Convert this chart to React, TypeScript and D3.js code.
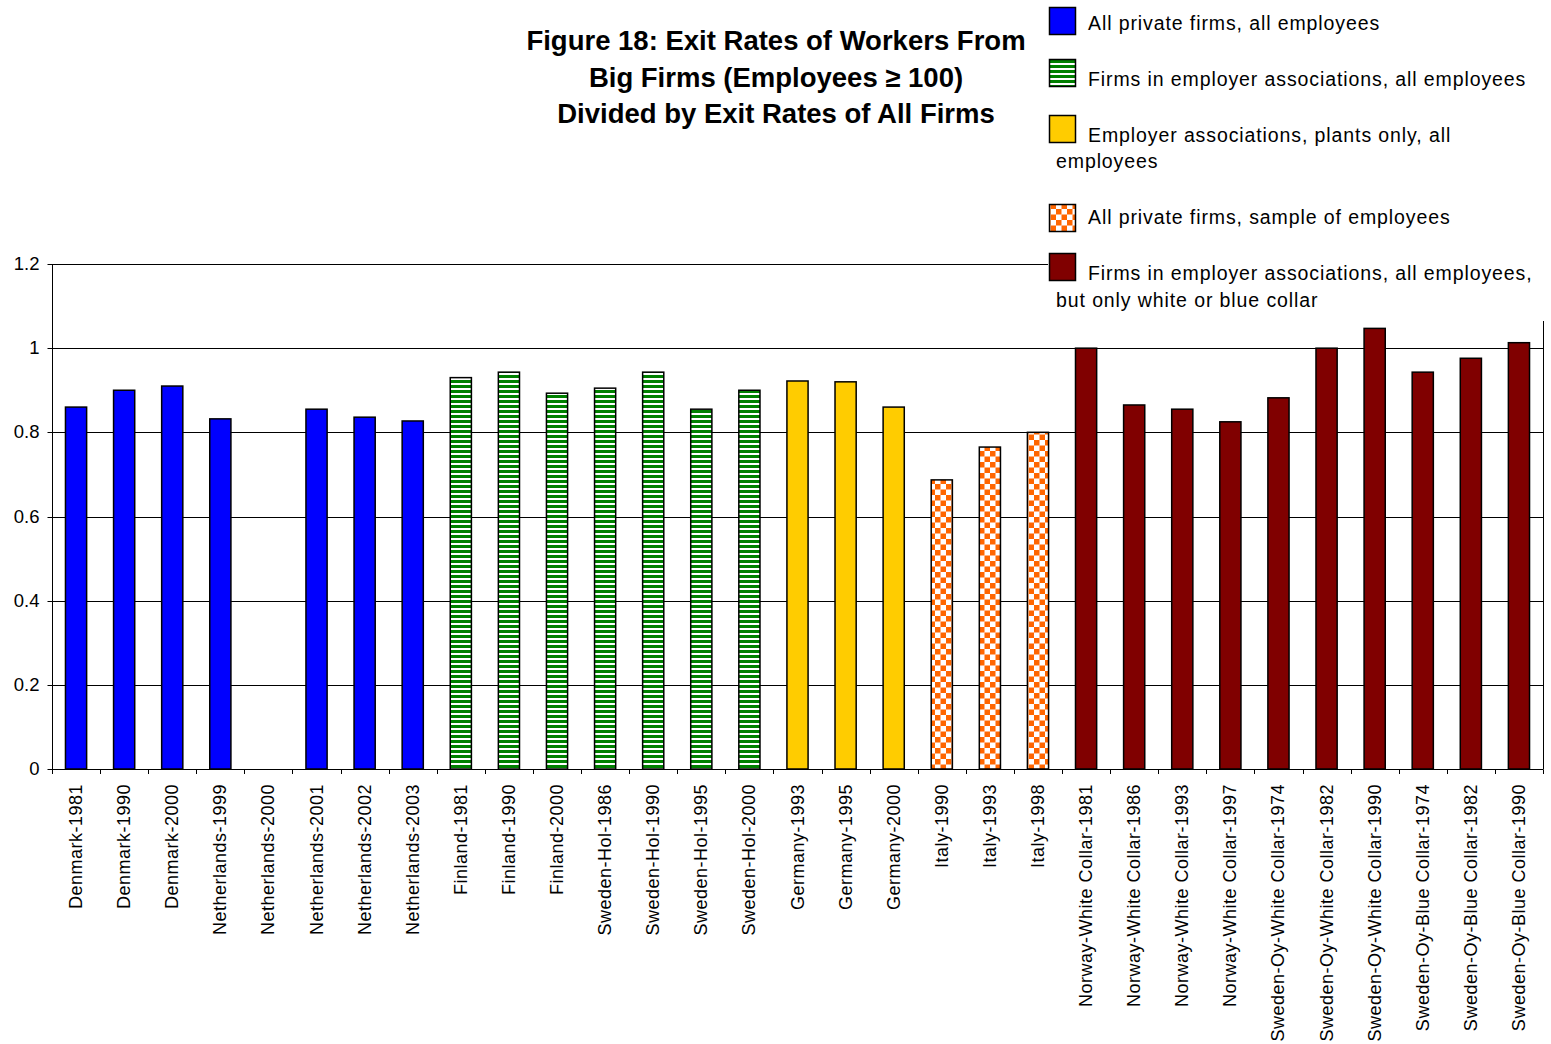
import React, { useEffect, useRef } from 'react';
import * as d3 from 'd3';

// Exit rates of workers from big firms divided by exit rates of all firms

const categories = [
    'Denmark-1981', 'Denmark-1990', 'Denmark-2000',
    'Netherlands-1999', 'Netherlands-2000', 'Netherlands-2001', 'Netherlands-2002', 'Netherlands-2003',
    'Finland-1981', 'Finland-1990', 'Finland-2000',
    'Sweden-Hol-1986', 'Sweden-Hol-1990', 'Sweden-Hol-1995', 'Sweden-Hol-2000',
    'Germany-1993', 'Germany-1995', 'Germany-2000',
    'Italy-1990', 'Italy-1993', 'Italy-1998',
    'Norway-White Collar-1981', 'Norway-White Collar-1986', 'Norway-White Collar-1993', 'Norway-White Collar-1997',
    'Sweden-Oy-White Collar-1974', 'Sweden-Oy-White Collar-1982', 'Sweden-Oy-White Collar-1990',
    'Sweden-Oy-Blue Collar-1974', 'Sweden-Oy-Blue Collar-1982', 'Sweden-Oy-Blue Collar-1990',
];

const values: (number | null)[] = [
    0.86, 0.90, 0.91,
    0.832, null, 0.855, 0.836, 0.827,
    0.93, 0.943, 0.893,
    0.905, 0.943, 0.855, 0.90,
    0.922, 0.92, 0.86,
    0.687, 0.765, 0.80,
    1.0, 0.865, 0.855, 0.825,
    0.882, 1.0, 1.047,
    0.943, 0.976, 1.013,
];

// which legend series each bar belongs to
const seriesIndex = [
    0, 0, 0, 0, 0, 0, 0, 0,
    1, 1, 1, 1, 1, 1, 1,
    2, 2, 2,
    3, 3, 3,
    4, 4, 4, 4, 4, 4, 4, 4, 4, 4,
];

const seriesLabels = [
    ['All private firms, all employees'],
    ['Firms in employer associations, all employees'],
    ['Employer associations, plants only, all', 'employees'],
    ['All private firms, sample of employees'],
    ['Firms in employer associations, all employees,', 'but only white or blue collar'],
];

const yTicks = [0, 0.2, 0.4, 0.6, 0.8, 1, 1.2];

const titleLines = [
    'Figure 18: Exit Rates of Workers From',
    'Big Firms (Employees \u2265 100)',
    'Divided by Exit Rates of All Firms',
];

const FONT = '"Liberation Sans", Arial, sans-serif';
const fills = ['#0000ff', 'url(#stripes)', '#ffcc00', 'url(#checker)', '#800000'];

export default function App() {
    const svgRef = useRef<SVGSVGElement>(null);

    useEffect(() => {
        if (!svgRef.current) return;
        const width = 1551;
        const height = 1044;
        const left = 52, right = 1543, top = 264, bottom = 769;

        const svg = d3.select(svgRef.current)
            .attr('width', width)
            .attr('height', height);
        svg.selectAll('*').remove();

        const defs = svg.append('defs');
        const stripes = defs.append('pattern')
            .attr('id', 'stripes')
            .attr('patternUnits', 'userSpaceOnUse')
            .attr('width', 5).attr('height', 5);
        stripes.append('rect').attr('width', 5).attr('height', 5).attr('fill', '#fff');
        stripes.append('rect').attr('width', 5).attr('height', 3).attr('fill', '#008000');

        const checker = defs.append('pattern')
            .attr('id', 'checker')
            .attr('patternUnits', 'userSpaceOnUse')
            .attr('width', 11).attr('height', 11);
        checker.append('rect').attr('width', 11).attr('height', 11).attr('fill', '#fff');
        checker.append('rect').attr('width', 5.5).attr('height', 5.5).attr('fill', '#ff6600');
        checker.append('rect').attr('x', 5.5).attr('y', 5.5).attr('width', 5.5).attr('height', 5.5).attr('fill', '#ff6600');

        const x = d3.scaleBand<string>()
            .domain(categories)
            .range([left, right])
            .padding(0);
        const barW = x.bandwidth() * 0.44;

        const y = d3.scaleLinear()
            .domain([0, 1.2])
            .range([bottom, top]);

        const crisp = (v: number) => Math.round(v) + 0.5;

        // gridlines
        svg.append('g')
            .selectAll('line')
            .data(yTicks.filter(t => t > 0))
            .enter()
            .append('line')
            .attr('x1', left).attr('x2', right)
            .attr('y1', d => crisp(y(d))).attr('y2', d => crisp(y(d)))
            .attr('stroke', '#000').attr('stroke-width', 1);

        // right frame
        svg.append('line')
            .attr('x1', crisp(right)).attr('x2', crisp(right))
            .attr('y1', crisp(top)).attr('y2', crisp(bottom))
            .attr('stroke', '#000');

        // bars
        const idx = d3.range(categories.length).filter(i => values[i] != null);
        svg.append('g')
            .selectAll('rect')
            .data(idx)
            .enter()
            .append('rect')
            .attr('x', i => x(categories[i])! + (x.bandwidth() - barW) / 2)
            .attr('y', i => y(values[i] as number))
            .attr('width', barW)
            .attr('height', i => y(0) - y(values[i] as number))
            .attr('fill', i => fills[seriesIndex[i]])
            .attr('stroke', '#000')
            .attr('stroke-width', 1.5);

        // y axis
        const yAxis = svg.append('g')
            .attr('transform', `translate(${crisp(left)},0)`)
            .call(d3.axisLeft(y).tickValues(yTicks).tickSize(5).tickPadding(8)
                .tickFormat(d => d3.format('~g')(d as number)));
        yAxis.select('.domain').attr('stroke', '#000').attr('d', `M0,${crisp(top)}V${crisp(bottom)}`);
        yAxis.selectAll('.tick line').attr('stroke', '#000');
        yAxis.selectAll('.tick text')
            .attr('font-family', FONT)
            .attr('font-size', 18.5)
            .attr('fill', '#000');
        yAxis.selectAll('.tick').attr('transform', (d: any) => `translate(0,${crisp(y(d))})`);

        // x axis: ticks at category boundaries
        const xg = svg.append('g');
        xg.append('line')
            .attr('x1', left).attr('x2', right)
            .attr('y1', crisp(bottom)).attr('y2', crisp(bottom))
            .attr('stroke', '#000');
        xg.selectAll('line.tick')
            .data(categories.concat(['__end']))
            .enter()
            .append('line')
            .attr('class', 'tick')
            .attr('x1', (d, i) => crisp(left + i * x.step()))
            .attr('x2', (d, i) => crisp(left + i * x.step()))
            .attr('y1', crisp(bottom)).attr('y2', bottom + 5)
            .attr('stroke', '#000');
        xg.selectAll('text')
            .data(categories)
            .enter()
            .append('text')
            .attr('transform', d => `translate(${x(d)! + x.bandwidth() / 2 + 6},${bottom + 15}) rotate(-90)`)
            .attr('text-anchor', 'end')
            .attr('font-family', FONT)
            .attr('font-size', 18)
            .attr('letter-spacing', 0.5)
            .text(d => d);

        // title
        svg.append('g')
            .selectAll('text')
            .data(titleLines)
            .enter()
            .append('text')
            .attr('x', 776)
            .attr('y', (d, i) => 50 + i * 36.5)
            .attr('text-anchor', 'middle')
            .attr('font-family', FONT)
            .attr('font-weight', 'bold')
            .attr('font-size', 27.5)
            .text(d => d);

        // legend (covers the top-right of the plot frame)
        const lg = svg.append('g');
        lg.append('rect')
            .attr('x', 1048).attr('y', 0)
            .attr('width', width - 1048).attr('height', 321)
            .attr('fill', '#fff');
        const swatchTops = [7, 59, 115, 204, 253];
        const lineY = [[30], [86], [142, 168], [224], [280, 307]];
        seriesLabels.forEach((lines, s) => {
            lg.append('rect')
                .attr('x', 1049.5).attr('y', swatchTops[s] + 0.5)
                .attr('width', 26).attr('height', 27)
                .attr('fill', fills[s])
                .attr('stroke', '#000').attr('stroke-width', 1.5);
            lines.forEach((t, k) => {
                lg.append('text')
                    .attr('x', k === 0 ? 1088 : 1056)
                    .attr('y', lineY[s][k])
                    .attr('font-family', FONT)
                    .attr('font-size', 19.5)
                    .attr('letter-spacing', 0.9)
                    .text(t);
            });
        });
    }, []);

    return (
        <svg ref={svgRef} style={{ position: 'absolute', left: 0, top: 0, background: '#fff' }}></svg>
    );
}
